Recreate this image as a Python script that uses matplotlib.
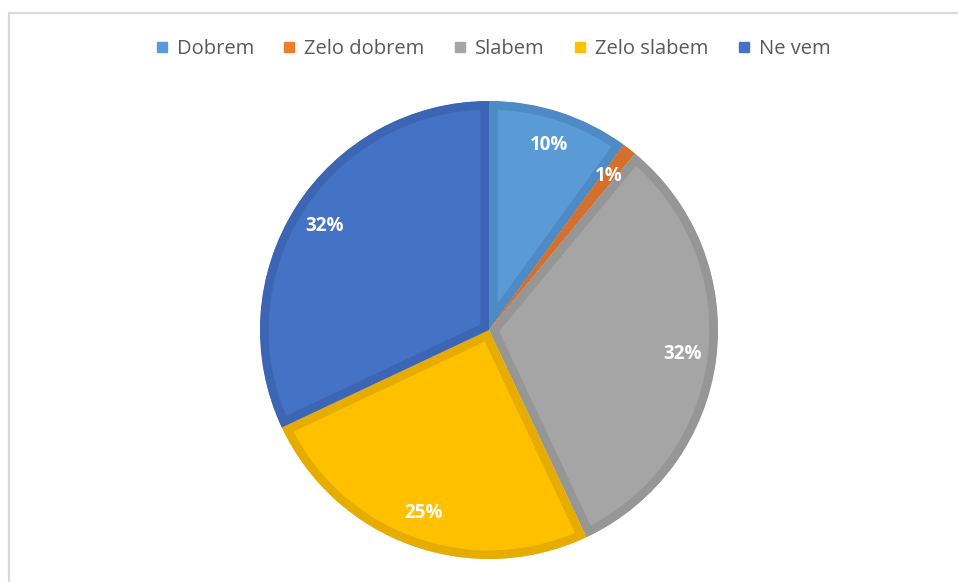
import matplotlib
matplotlib.use("Agg")
import matplotlib.pyplot as plt
from matplotlib.lines import Line2D
from matplotlib.patches import Rectangle

categories = ["Dobrem", "Zelo dobrem", "Slabem", "Zelo slabem", "Ne vem"]
values = [10, 1, 32, 25, 32]
face_colors = ["#5B9BD5", "#ED7D31", "#A5A5A5", "#FFC000", "#4472C4"]
edge_colors = ["#4E8AC3", "#D4702C", "#969696", "#E6AD00", "#3C66B3"]

W, H = 958, 582
fig = plt.figure(figsize=(W / 100, H / 100), dpi=100)
fig.patch.set_facecolor("white")

# outer chart border (light gray)
fig.patches.append(Rectangle((8.5 / W, -0.05), 1.2, 1 - 12.5 / H + 0.05,
                             transform=fig.transFigure, fill=False,
                             edgecolor="#D9D9D9", linewidth=1.6, zorder=0))

cx, cy, r = 489, 330, 229
ax = fig.add_axes([(cx - r) / W, (H - cy - r) / H, 2 * r / W, 2 * r / H])

wedges, texts, autotexts = ax.pie(
    values, colors=face_colors, startangle=90, counterclock=False,
    radius=1.0, autopct=lambda p: f"{p:.0f}%", pctdistance=0.85,
    wedgeprops=dict(linewidth=0),
    textprops=dict(color="white", fontsize=13.5, fontweight="bold",
                   family=["Open Sans", "DejaVu Sans"]))
ax.set_xlim(-1, 1)
ax.set_ylim(-1, 1)
ax.set_aspect("equal")
ax.axis("off")

for w, ec in zip(wedges, edge_colors):
    w.set_edgecolor(ec)
    w.set_linewidth(12.5)
    w.set_clip_on(True)
    w.set_clip_path(w)

handles = [Line2D([], [], marker="s", linestyle="none", markersize=7.6,
                  markerfacecolor=c, markeredgecolor=c) for c in face_colors]
fig.legend(handles, categories, loc="center", bbox_to_anchor=(493 / W, 1 - 49 / H),
           ncol=5, frameon=False, handletextpad=0.45, columnspacing=1.45,
           prop=dict(family=["Open Sans", "DejaVu Sans"], size=14.5),
           labelcolor="#595959", handlelength=0.6)

fig.savefig("out.png", dpi=100, facecolor="white")
